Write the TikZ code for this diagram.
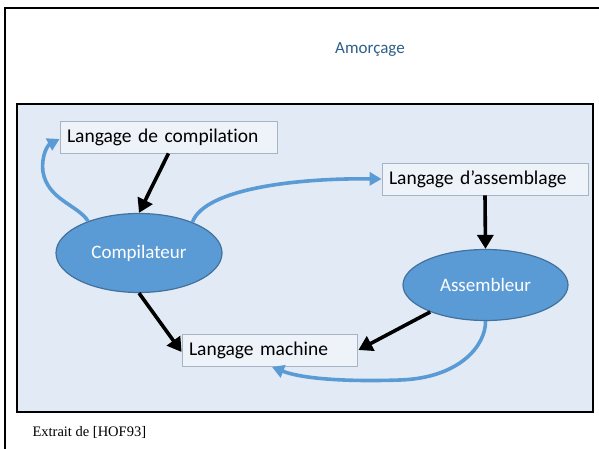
\documentclass[tikz,border=0pt]{standalone}
\usepackage{fontspec}
\setmainfont[Ligatures=NoCommon]{Carlito}
\newfontfamily\timesfont{Liberation Serif}
\usetikzlibrary{shapes.geometric,arrows.meta}
\definecolor{panel}{HTML}{E2EBF5}
\definecolor{nodeblue}{HTML}{5B9BD5}
\definecolor{nodeedge}{HTML}{41719C}
\definecolor{boxfill}{HTML}{EEF3F9}
\definecolor{boxedge}{HTML}{A6B4C4}
\definecolor{titleblue}{HTML}{2E5F8A}
\tikzset{
  x=1pt, y=-1pt,
  langbox/.style={draw=boxedge, line width=0.8pt, fill=boxfill, minimum height=32pt,
    inner xsep=7pt, align=left, font=\fontsize{19.5}{22}\selectfont, anchor=center},
  tool/.style={ellipse, draw=nodeedge, line width=1.2pt, fill=nodeblue, text=white,
    font=\fontsize{19}{22}\selectfont},
  flow/.style={line width=3.6pt, -{Triangle[length=14pt,width=16pt]}},
  boot/.style={draw=nodeblue, line width=3.6pt, -{Triangle[length=12pt,width=13pt]}}
}
\begin{document}
\begin{tikzpicture}
\useasboundingbox (0,0) rectangle (599,449);
\fill[white] (0,0) rectangle (599,449);
% outer frame (runs off the right and bottom)
\draw[line width=1.6pt] (5,460) -- (5,8) -- (610,8);
\node[text=titleblue, font=\fontsize{17}{20}\selectfont] (title) at (370,50) {Amorçage};
% inner panel
\draw[line width=2.4pt, fill=panel] (17,104) rectangle (593,412);
\node[font=\timesfont\fontsize{14.5}{16}\selectfont, anchor=west] (src) at (29,432) {Extrait de [HOF93]};

% languages
\node[langbox, text width=203pt] (lc) at (168.5,137) {Langage de compilation};
\node[langbox, text width=192pt] (la) at (485,179) {Langage d’assemblage};
\node[langbox, text width=161pt] (lm) at (269.5,350) {Langage machine};

% tools
\node[tool, minimum width=166pt, minimum height=79pt] (comp) at (139,253) {Compilateur};
\node[tool, minimum width=165pt, minimum height=71pt] (asm) at (485.5,285) {Assembleur};

% translations
\draw[flow] (lc.south) -- (comp.north);
\draw[flow] (la.south) -- (asm.north);
\draw[flow] (comp.south) -- ([yshift=-2pt]lm.west);
\draw[flow] (asm.206) -- ([xshift=1pt]lm.east);

% bootstrapping loops
\draw[boot] (comp.148) .. controls (78,205) and (48,200) .. (43,172)
  .. controls (41,155) and (48,145) .. ([yshift=-2pt]lc.west);
\draw[boot] (comp.30) .. controls (205,188) and (300,178) .. (la.west);
\draw[boot] (asm.south) .. controls (486,345) and (460,378) .. (400,380)
  .. controls (340,382) and (300,378) .. (272,367);
\end{tikzpicture}
\end{document}
